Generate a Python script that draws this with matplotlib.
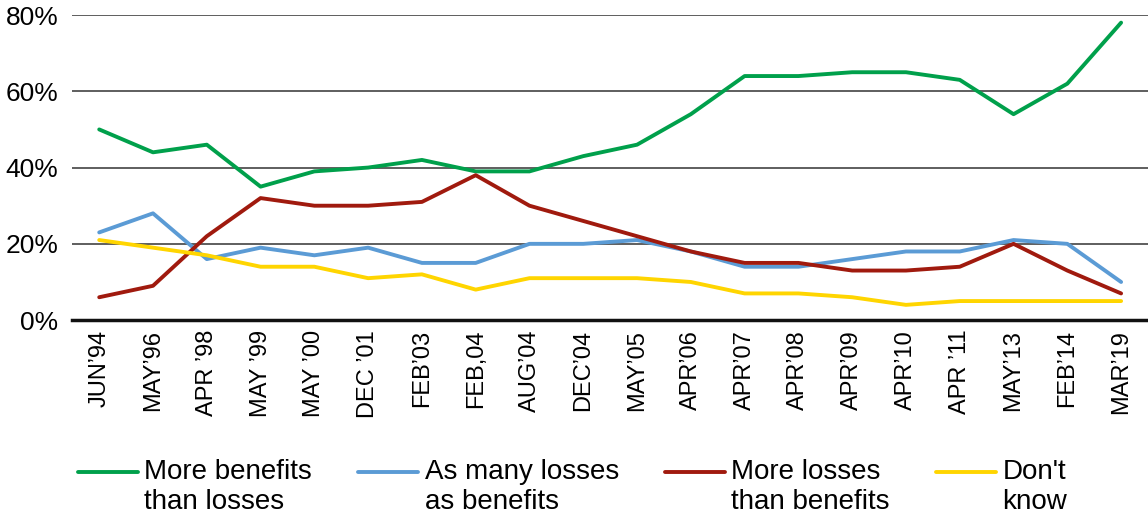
import numpy as np
import matplotlib.pyplot as plt

plt.rcParams['font.family'] = ['Liberation Sans', 'DejaVu Sans']

dates = ["JUN’94", "MAY’96", "APR ’98", "MAY ’99", "MAY ’00", "DEC ’01", "FEB’03",
         "FEB,04", "AUG’04", "DEC’04", "MAY’05", "APR’06", "APR’07", "APR’08",
         "APR’09", "APR’10", "APR ’11", "MAY’13", "FEB’14", "MAR’19"]

more_benefits = [50, 44, 46, 35, 39, 40, 42, 39, 39, 43, 46, 54, 64, 64, 65, 65, 63, 54, 62, 78]
as_many = [23, 28, 16, 19, 17, 19, 15, 15, 20, 20, 21, 18, 14, 14, 16, 18, 18, 21, 20, 10]
more_losses = [6, 9, 22, 32, 30, 30, 31, 38, 30, 26, 22, 18, 15, 15, 13, 13, 14, 20, 13, 7]
dont_know = [21, 19, 17, 14, 14, 11, 12, 8, 11, 11, 11, 10, 7, 7, 6, 4, 5, 5, 5, 5]

series = [
    ("More benefits\nthan losses", more_benefits, "#00A04B"),
    ("As many losses\nas benefits", as_many, "#5B9BD5"),
    ("More losses\nthan benefits", more_losses, "#A01A0E"),
    ("Don't\nknow", dont_know, "#FFD500"),
]

fig = plt.figure(figsize=(11.48, 5.18), dpi=100)
ax = fig.add_axes([0.063, 0.382, 0.937, 0.589])

x = np.arange(len(dates))
for label, vals, color in series:
    ax.plot(x, vals, color=color, lw=2.8, label=label, solid_capstyle='round', zorder=3)

ax.set_xlim(-0.5, len(dates) - 0.5)
ax.set_ylim(0, 80)
ax.set_yticks([0, 20, 40, 60, 80])
ax.set_yticklabels(["0%", "20%", "40%", "60%", "80%"], fontsize=19)
ax.set_xticks(x)
ax.set_xticklabels(dates, rotation=90, fontsize=17)
ax.tick_params(axis='both', length=0)
ax.tick_params(axis='y', pad=10)
ax.tick_params(axis='x', pad=7)

for s in ['left', 'right', 'top']:
    ax.spines[s].set_visible(False)
ax.spines['bottom'].set_linewidth(2.5)
ax.spines['bottom'].set_color('#111111')
ax.yaxis.grid(True, color='#333333', lw=1.1, zorder=1)
ax.set_axisbelow(True)

leg = fig.legend(loc='lower left', bbox_to_anchor=(0.046, -0.043), ncol=4, frameon=False,
                 fontsize=20, handlelength=2.15, handletextpad=0.25, columnspacing=1.65,
                 labelspacing=0.1)
# line up each key with the first line of its label
for ln in leg.get_lines():
    ln.set_ydata(np.asarray(ln.get_ydata()) + 11)

fig.savefig("out.png", dpi=100)
